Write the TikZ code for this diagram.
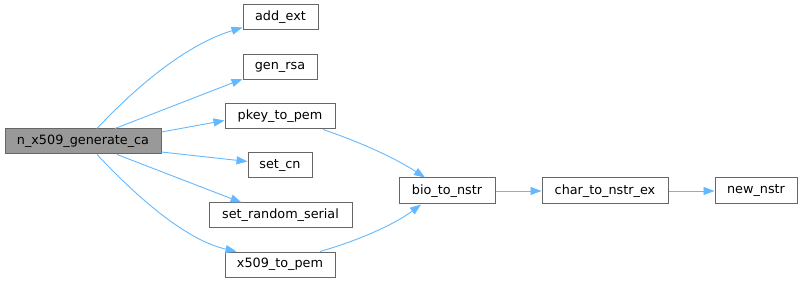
\documentclass[tikz,border=0pt]{standalone}
\usepackage{fontspec}
\setmainfont{DejaVu Sans}
\usetikzlibrary{arrows.meta}
\definecolor{edgeblue}{HTML}{63B8FF}
\definecolor{mainfill}{HTML}{999999}
\definecolor{boxborder}{HTML}{666666}
\tikzset{
  fn/.style={draw=boxborder, fill=white, line width=1pt, minimum height=25pt, inner sep=0pt, font=\fontsize{12.8}{14}\selectfont, text=black},
  mainfn/.style={fn, fill=mainfill},
  call/.style={draw=edgeblue, line width=0.9pt, -{Triangle[length=11pt,width=8pt]}, fill=none},
}
\begin{document}
\begin{tikzpicture}[x=1pt,y=-1pt]
\useasboundingbox (0,0) rectangle (803,283);
\node[mainfn, minimum width=156pt] (main) at (83,141.5) {n\_x509\_generate\_ca};
\node[fn, minimum width=75pt] (addext) at (280.5,17.5) {add\_ext};
\node[fn, minimum width=74pt] (genrsa) at (280,67) {gen\_rsa};
\node[fn, minimum width=110pt] (pkey) at (280,116.5) {pkey\_to\_pem};
\node[fn, minimum width=64pt] (setcn) at (280,165.5) {set\_cn};
\node[fn, minimum width=143pt] (serial) at (280.5,215.5) {set\_random\_serial};
\node[fn, minimum width=110pt] (x509) at (280,264.5) {x509\_to\_pem};
\node[fn, minimum width=96pt, minimum height=26pt] (bio) at (447,191) {bio\_to\_nstr};
\node[fn, minimum width=126pt, minimum height=26pt] (char) at (605,191) {char\_to\_nstr\_ex};
\node[fn, minimum width=82pt, minimum height=26pt] (new) at (756,191) {new\_nstr};

\draw[call] ([xshift=14]main.north) .. controls (135,88) and (185,45) .. ([yshift=-10]addext.west);
\draw[call] ([xshift=32]main.north) -- ([yshift=1]genrsa.south west);
\draw[call] ([yshift=9.5]main.east) -- ([yshift=-4]pkey.west);
\draw[call] ([yshift=-10.5]main.east) -- ([yshift=4]setcn.west);
\draw[call] ([xshift=34]main.south) -- ([xshift=33]serial.north west);
\draw[call] ([xshift=14]main.south) .. controls (135,195) and (185,240) .. ([xshift=12]x509.north west);
\draw[call] ([xshift=43]pkey.south) .. controls (360,142) and (395,158) .. ([xshift=-22]bio.north);
\draw[call] ([xshift=40]x509.north) .. controls (360,240) and (395,224) .. ([xshift=-26]bio.south);
\draw[call] (bio.east) -- (char.west);
\draw[call] (char.east) -- (new.west);
\end{tikzpicture}
\end{document}
